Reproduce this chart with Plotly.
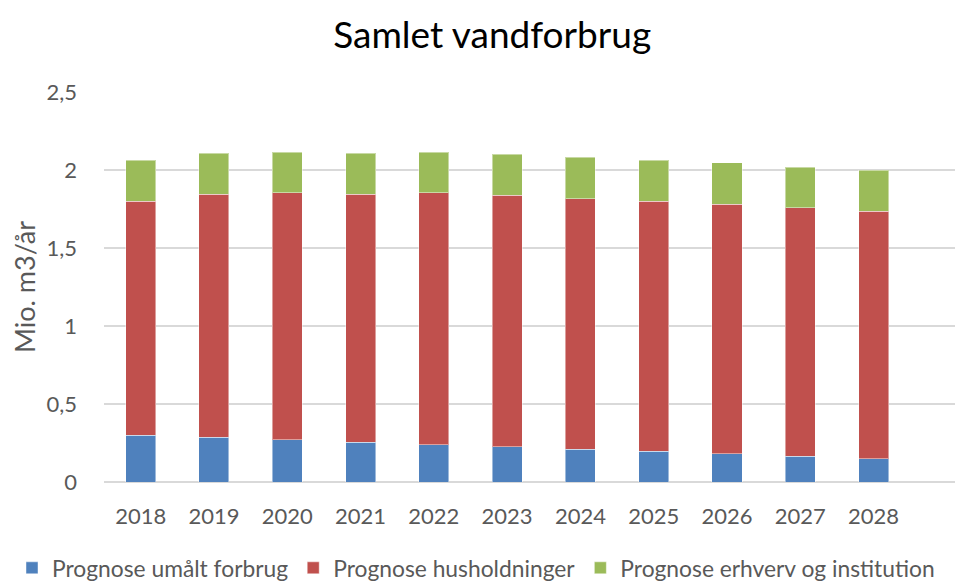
import plotly.graph_objects as go

years = ["2018", "2019", "2020", "2021", "2022", "2023", "2024", "2025", "2026", "2027", "2028"]
umaalt = [0.30, 0.287, 0.27, 0.255, 0.24, 0.226, 0.21, 0.197, 0.181, 0.165, 0.15]
husholdninger = [1.50, 1.557, 1.583, 1.591, 1.613, 1.612, 1.606, 1.603, 1.601, 1.593, 1.585]
erhverv = [0.264, 0.263, 0.262, 0.261, 0.262, 0.262, 0.265, 0.264, 0.263, 0.259, 0.263]
y_ticks = [0, 0.5, 1, 1.5, 2, 2.5]

font_family = "Lato, 'Open Sans', sans-serif"
line = dict(width=1, color="rgba(255,255,255,0.45)")

W, H = 955, 576
ML, MT, MB = 96, 84, 102
PW, PH = W - ML, H - MT - MB

fig = go.Figure()
fig.add_trace(go.Bar(x=years, y=umaalt, name="Prognose umålt forbrug",
                     marker=dict(color="#4F81BD", line=line)))
fig.add_trace(go.Bar(x=years, y=husholdninger, name="Prognose husholdninger",
                     marker=dict(color="#C0504D", line=line)))
fig.add_trace(go.Bar(x=years, y=erhverv, name="Prognose erhverv og institution",
                     marker=dict(color="#9BBB59", line=line)))

fig.update_layout(
    barmode="stack",
    bargap=0.59,
    width=W, height=H,
    margin=dict(l=ML, r=0, t=MT, b=MB, autoexpand=False),
    paper_bgcolor="white", plot_bgcolor="white",
    separators=",.",
    font=dict(family=font_family, color="#595959", size=22),
    title=dict(text="Samlet vandforbrug", x=0.507, xanchor="center", xref="container",
               y=1 - 27 / H, yanchor="middle", yref="container",
               font=dict(size=37, color="#000000", family=font_family)),
    xaxis=dict(type="category", range=[-0.5, 11.22], showgrid=False,
               showline=False, ticks="", ticklabelstandoff=19,
               tickfont=dict(size=22, color="#595959")),
    yaxis=dict(range=[0, 2.5], tickvals=y_ticks, showgrid=True,
               gridcolor="#D9D9D9", gridwidth=1.5, zeroline=True,
               zerolinecolor="#D9D9D9", zerolinewidth=1.5,
               ticks="", ticklabelstandoff=26,
               tickfont=dict(size=22, color="#595959"),
               title=dict(text="Mio. m3/år", standoff=12,
                          font=dict(size=27, color="#595959"))),
    legend=dict(orientation="h", x=(4 - ML) / PW, xanchor="left",
                y=(MT + PH - 560) / PH, yanchor="middle",
                font=dict(size=22.8, color="#595959"), traceorder="normal",
                itemwidth=30),
)

fig.write_html("out.html")
